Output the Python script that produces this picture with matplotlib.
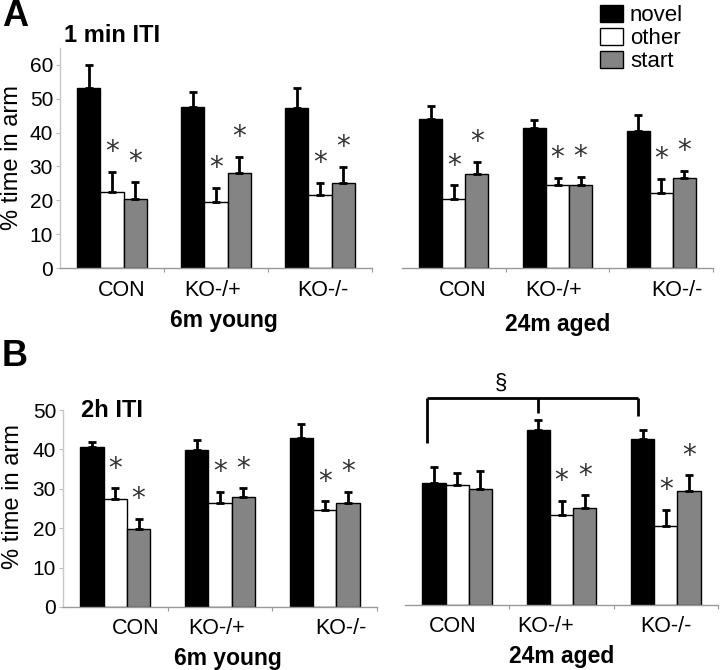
import matplotlib
matplotlib.use("Agg")
import matplotlib.pyplot as plt
from matplotlib.patches import Patch
import numpy as np

plt.rcParams['font.family'] = ['Liberation Sans', 'DejaVu Sans']

categories = ["CON", "KO-/+", "KO-/-"]
series = ["novel", "other", "start"]
colors = ["#000000", "#ffffff", "#848484"]

# Panel A (1 min ITI)
A_young_novel = [53.2, 47.6, 47.4]
A_young_other = [22.4, 19.6, 21.5]
A_young_start = [20.4, 28.2, 25.0]
A_young_novel_err = [6.9, 4.4, 5.9]
A_young_other_err = [6.0, 4.1, 3.6]
A_young_start_err = [5.0, 4.7, 4.9]

A_aged_novel = [44.0, 41.4, 40.6]
A_aged_other = [20.5, 24.4, 22.1]
A_aged_start = [27.7, 24.4, 26.6]
A_aged_novel_err = [3.8, 2.2, 4.5]
A_aged_other_err = [4.0, 2.3, 4.2]
A_aged_start_err = [3.7, 2.6, 2.2]

# Panel B (2h ITI)
B_young_novel = [40.6, 39.9, 42.9]
B_young_other = [27.5, 26.3, 24.7]
B_young_start = [19.9, 28.0, 26.3]
B_young_novel_err = [1.2, 2.4, 3.5]
B_young_other_err = [2.6, 3.0, 2.1]
B_young_start_err = [2.5, 2.1, 2.9]

B_aged_novel = [31.0, 44.3, 42.2]
B_aged_other = [30.5, 22.8, 20.1]
B_aged_start = [29.5, 24.5, 29.0]
B_aged_novel_err = [4.1, 2.6, 2.1]
B_aged_other_err = [3.1, 3.7, 4.0]
B_aged_start_err = [4.4, 3.4, 3.9]

# significance (* vs novel) for other/start bars
A_young_sig = [True, True, True]
A_aged_sig = [True, True, True]
B_young_sig = [True, True, True]
B_aged_sig = [False, True, True]

W, H = 720, 670
fig = plt.figure(figsize=(W / 100, H / 100), dpi=100)


def add_ax(x0, x1, ybot, ytop):
    return fig.add_axes([x0 / W, 1 - ybot / H, (x1 - x0) / W, (ybot - ytop) / H])


bw = 0.222
offsets = [-bw, 0.0, bw]


def draw_panel(ax, means, errs, sig, ymax, ytick_max, show_y, label_x, group_name,
               group_xy):
    x = np.arange(len(categories))
    for i, (m, e, c) in enumerate(zip(means, errs, colors)):
        ax.bar(x + offsets[i], m, width=bw, color=c, edgecolor="black", linewidth=1.0,
               zorder=2)
        ax.errorbar(x + offsets[i], m, yerr=[np.zeros(len(e)), e], fmt="none",
                    ecolor="black", elinewidth=2.0, capsize=2.8, capthick=2.0, zorder=3)
        if i > 0:
            for j in range(len(categories)):
                if sig[j]:
                    ax.annotate("*", xy=(x[j] + offsets[i], m[j] + e[j]),
                                xytext=(0, 4), textcoords="offset points",
                                ha="center", va="bottom", fontsize=20,
                                color="#333333", family="DejaVu Sans")
    ax.set_xlim(-0.5, 2.5)
    ax.set_ylim(0, ymax)
    ax.set_xticks([0.5, 1.5, 2.5])
    ax.set_xticklabels([])
    ax.tick_params(axis="x", length=3, color="#999999", direction="out")
    for s in ["top", "right"]:
        ax.spines[s].set_visible(False)
    ax.spines["bottom"].set_color("#999999")
    ax.spines["bottom"].set_linewidth(1.0)
    if show_y:
        ax.spines["left"].set_color("#c8c8c8")
        ax.spines["left"].set_linewidth(1.0)
        ax.set_yticks(np.arange(0, ytick_max + 1, 10))
        ax.tick_params(axis="y", length=3, color="#bbbbbb", pad=2, labelsize=15)
    else:
        ax.spines["left"].set_visible(False)
        ax.set_yticks([])
    for lx, name in zip(label_x, categories):
        ax.annotate(name, xy=(lx, 0), xycoords=("data", "axes fraction"),
                    xytext=(0, -22), textcoords="offset pixels",
                    ha="center", va="center", fontsize=15.5)
    fig.text(group_xy[0] / W, 1 - group_xy[1] / H, group_name, ha="center",
             va="center", fontsize=16.5, fontweight="bold")


axA1 = add_ax(60, 372, 268, 48)
axA2 = add_ax(402, 713, 268, 48)
axB1 = add_ax(63, 377, 607, 410)
axB2 = add_ax(405, 718, 605, 408)

draw_panel(axA1, [A_young_novel, A_young_other, A_young_start],
           [A_young_novel_err, A_young_other_err, A_young_start_err],
           A_young_sig, 65, 60, True, [0.09, 0.97, 2.03], "6m young", (224, 321))
draw_panel(axA2, [A_aged_novel, A_aged_other, A_aged_start],
           [A_aged_novel_err, A_aged_other_err, A_aged_start_err],
           A_aged_sig, 65, 60, False, [0.09, 0.96, 2.15], "24m aged", (558, 324))
draw_panel(axB1, [B_young_novel, B_young_other, B_young_start],
           [B_young_novel_err, B_young_other_err, B_young_start_err],
           B_young_sig, 50, 50, True, [0.19, 0.97, 2.16], "6m young", (228, 658))
draw_panel(axB2, [B_aged_novel, B_aged_other, B_aged_start],
           [B_aged_novel_err, B_aged_other_err, B_aged_start_err],
           B_aged_sig, 50, 50, False, [-0.04, 0.85, 2.0], "24m aged", (562, 657))

# bracket (§) in B aged
br_x = [-0.29, 0.778, 1.73]
br_top = 52.5
br_legs = [41.0, 48.7, 47.9]
axB2.plot([br_x[0], br_x[2]], [br_top, br_top], color="black", lw=2.0, clip_on=False,
          solid_capstyle="butt")
for bx, by in zip(br_x, br_legs):
    axB2.plot([bx, bx], [br_top, by], color="black", lw=2.0, clip_on=False,
              solid_capstyle="butt")
axB2.text(0.42, br_top + 1.2, "§", ha="center", va="bottom", fontsize=16)

# panel letters and titles
fig.text(15 / W, 1 - 17 / H, "A", ha="center", va="center", fontsize=26,
         fontweight="bold")
fig.text(15 / W, 1 - 356 / H, "B", ha="center", va="center", fontsize=26,
         fontweight="bold")
fig.text(64 / W, 1 - 35 / H, "1 min ITI", ha="left", va="center", fontsize=17,
         fontweight="bold")
fig.text(81 / W, 1 - 411 / H, "2h ITI", ha="left", va="center", fontsize=17,
         fontweight="bold")

fig.text(12 / W, 1 - 158 / H, "% time in arm", rotation=90, ha="center",
         va="center", fontsize=17)
fig.text(13 / W, 1 - 497 / H, "% time in arm", rotation=90, ha="center",
         va="center", fontsize=17)

handles = [Patch(facecolor=c, edgecolor="black", linewidth=1.0) for c in colors]
fig.legend(handles, series, loc="upper left", bbox_to_anchor=(600 / W, 1 - 5 / H),
           frameon=False, fontsize=16, handlelength=1.05, handleheight=0.8,
           handletextpad=0.3, labelspacing=0.08, borderpad=0, borderaxespad=0)

fig.savefig("out.png", dpi=100)
